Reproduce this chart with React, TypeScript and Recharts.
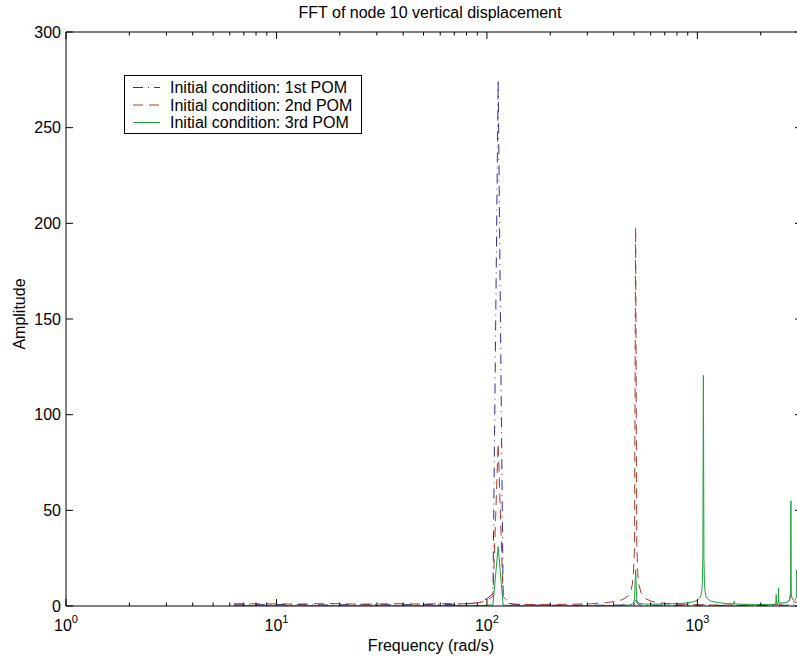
import { LineChart, Line, XAxis, YAxis } from 'recharts'

// FFT bins (rad/s), 1 Hz spacing, only the bins that shape the curves
const freq = [
  6.28, 12.57, 18.85, 25.13, 37.7, 50.27, 62.83, 75.4, 87.96, 94.25,
  100.53, 106.81, 113.1, 119.38, 125.66, 131.95, 150.8, 188.5, 251.33, 314.16,
  376.99, 427.26, 452.39, 471.24, 483.81, 490.09, 496.37, 502.65, 508.94, 515.22,
  521.5, 527.79, 540.35, 565.49, 603.19, 653.45, 722.57, 816.81, 892.21, 961.33,
  1005.31, 1030.44, 1043.01, 1049.29, 1055.58, 1061.86, 1068.14, 1074.42, 1080.71, 1086.99,
  1099.56, 1124.69, 1162.39, 1244.07, 1376.02, 1488.85, 1495.13, 1501.42, 1633.63, 1884.96,
  2136.28, 2312.21, 2362.57, 2368.81, 2375.09, 2419.03, 2425.31, 2431.59, 2437.88, 2500.71,
  2638.94, 2720.62, 2745.75, 2758.32, 2770.88, 2777.17, 2783.45, 2789.73, 2796.02, 2827.43,
  2890.27, 2953.1, 2965.66, 2978.23, 2990.8, 3053.63, 3141.59,
]

const pom1 = [
  0.6, 0.8, 0.5, 0.9, 0.6, 0.8, 0.7, 1.0, 1.5, 2.2,
  4.0, 6.5, 275, 6.0, 2.0, 1.0, 0.6, 0.4, 0.4, 0.4,
  0.4, 0.5, 0.6, 0.7, 0.8, 1.0, 1.5, 2.5, 3.0, 2.0,
  1.0, 0.7, 0.5, 0.4, 0.4, 0.4, 0.4, 0.4, 0.4, 0.4,
  0.4, 0.5, 0.5, 0.5, 0.6, 0.6, 0.7, 0.6, 0.5, 0.5,
  0.4, 0.4, 0.4, 0.3, 0.3, 0.3, 0.3, 0.3, 0.3, 0.3,
  0.3, 0.3, 0.3, 0.3, 0.3, 0.3, 0.3, 0.3, 0.3, 0.4,
  0.4, 0.5, 0.6, 0.7, 0.8, 0.9, 1.0, 0.9, 0.8, 0.6,
  0.5, 0.5, 0.5, 0.5, 0.5, 0.4, 0.4,
]

const pom2 = [
  1.2, 1.0, 1.3, 0.9, 1.2, 1.0, 1.3, 1.1, 1.6, 1.9,
  3.0, 5.0, 85, 5.0, 1.5, 1.0, 0.8, 0.8, 0.9, 1.2,
  1.8, 2.8, 4.0, 5.5, 8, 11, 16, 30, 198, 32,
  16, 11, 7, 4, 2.5, 1.8, 1.2, 1.0, 0.8, 0.6,
  0.6, 0.6, 0.6, 0.6, 0.6, 0.7, 0.8, 0.7, 0.6, 0.6,
  0.5, 0.5, 0.5, 0.5, 0.5, 0.5, 0.5, 0.5, 0.5, 0.5,
  0.6, 0.6, 0.7, 0.7, 0.7, 0.8, 0.8, 0.9, 0.9, 1.0,
  1.5, 2.5, 3.5, 4.5, 5.5, 6, 5.5, 4.5, 3.5, 2.5,
  2.0, 2.0, 2.2, 2.3, 2.5, 2.0, 1.5,
]

const pom3 = [
  0.1, 0.1, 0.1, 0.1, 0.1, 0.1, 0.2, 0.2, 0.2, 0.3,
  0.4, 0.6, 31, 0.5, 0.3, 0.2, 0.1, 0.1, 0.1, 0.1,
  0.2, 0.3, 0.4, 0.5, 0.7, 0.9, 1.5, 3, 19, 3,
  2, 1.5, 1.2, 1.0, 1.0, 1.0, 1.1, 1.3, 1.6, 2.2,
  3.2, 4.5, 6, 8, 12, 25, 120.5, 25, 12, 8,
  5, 3.5, 2.5, 1.8, 1.3, 1.1, 2.5, 1.1, 0.9, 0.8,
  0.8, 0.9, 1.2, 6, 1.2, 1.4, 2, 9.5, 2, 1.5,
  1.8, 2.5, 3.5, 5, 8, 14, 55, 12, 6, 3.5,
  3, 4, 19, 12, 8, 4, 3,
]

const yTicks = [0, 50, 100, 150, 200, 250, 300]
const decades = [1, 10, 100, 1000]
const xTicks = [
  1, 2, 3, 4, 5, 6, 7, 8, 9,
  10, 20, 30, 40, 50, 60, 70, 80, 90,
  100, 200, 300, 400, 500, 600, 700, 800, 900,
  1000, 2000, 3000,
]
const xDomain = [1, 3141.59]

const series = [
  { key: 'pom1', name: 'Initial condition: 1st POM', color: '#3a2a9a', dash: '10 5 1 5' },
  { key: 'pom2', name: 'Initial condition: 2nd POM', color: '#a83a30', dash: '10 6' },
  { key: 'pom3', name: 'Initial condition: 3rd POM', color: '#1aa33a', dash: undefined },
]

const rows = freq.map((f, i) => ({ freq: f, pom1: pom1[i], pom2: pom2[i], pom3: pom3[i] }))

const FONT = '"Liberation Sans", Arial, Helvetica, sans-serif'

function BottomTick({ x, y, payload }: any) {
  const major = decades.includes(payload.value)
  return (
    <g>
      <line x1={x} x2={x} y1={y} y2={y - (major ? 7 : 3.5)} stroke="#000" />
      {major && (
        <text x={x} y={y + 25} textAnchor="middle" fontSize={16} fill="#000" fontFamily={FONT}>
          10<tspan dy={-8} fontSize={11}>{Math.round(Math.log10(payload.value))}</tspan>
        </text>
      )}
    </g>
  )
}

function TopTick({ x, y, payload }: any) {
  const major = decades.includes(payload.value)
  return <line x1={x} x2={x} y1={y} y2={y + (major ? 7 : 3.5)} stroke="#000" />
}

function LeftTick({ x, y, payload }: any) {
  return (
    <g>
      <line x1={x} x2={x + 7} y1={y} y2={y} stroke="#000" />
      <text x={x - 5} y={y} dy="0.35em" textAnchor="end" fontSize={16} fill="#000" fontFamily={FONT}>
        {payload.value}
      </text>
    </g>
  )
}

function RightTick({ x, y }: any) {
  return <line x1={x} x2={x - 7} y1={y} y2={y} stroke="#000" />
}

export default function App() {
  return (
    <div
      style={{
        position: 'absolute',
        left: 0,
        top: 0,
        width: 797,
        height: 659,
        overflow: 'hidden',
        background: '#fff',
        fontFamily: FONT,
      }}
    >
      <LineChart width={803} height={659} data={rows} margin={{ top: 31, right: 0, bottom: 0, left: 0 }}>
        <XAxis
          xAxisId="b"
          dataKey="freq"
          type="number"
          scale="log"
          domain={xDomain}
          allowDataOverflow
          ticks={xTicks}
          interval={0}
          height={53}
          tickSize={0}
          tickMargin={0}
          tickLine={false}
          tick={BottomTick}
          axisLine={{ stroke: '#000' }}
        />
        <XAxis
          xAxisId="t"
          orientation="top"
          dataKey="freq"
          type="number"
          scale="log"
          domain={xDomain}
          allowDataOverflow
          ticks={xTicks}
          interval={0}
          height={1}
          tickSize={0}
          tickMargin={0}
          tickLine={false}
          tick={TopTick}
          axisLine={{ stroke: '#000' }}
        />
        <YAxis
          yAxisId="l"
          type="number"
          domain={[0, 300]}
          allowDataOverflow
          ticks={yTicks}
          interval={0}
          width={66}
          tickSize={0}
          tickMargin={0}
          tickLine={false}
          tick={LeftTick}
          axisLine={{ stroke: '#000' }}
        />
        <YAxis
          yAxisId="r"
          orientation="right"
          type="number"
          domain={[0, 300]}
          allowDataOverflow
          ticks={yTicks}
          interval={0}
          width={1}
          tickSize={0}
          tickMargin={0}
          tickLine={false}
          tick={RightTick}
          axisLine={{ stroke: '#000' }}
        />
        {series.map((s) => (
          <Line
            key={s.key}
            xAxisId="b"
            yAxisId="l"
            type="linear"
            dataKey={s.key}
            name={s.name}
            stroke={s.color}
            strokeWidth={1}
            strokeDasharray={s.dash}
            dot={false}
            activeDot={false}
            isAnimationActive={false}
          />
        ))}
      </LineChart>

      <svg
        width={797}
        height={659}
        style={{ position: 'absolute', left: 0, top: 0, pointerEvents: 'none' }}
        fontFamily={FONT}
      >
        <text x={430} y={18} textAnchor="middle" fontSize={16} fill="#000">
          FFT of node 10 vertical displacement
        </text>
        <text x={431} y={651} textAnchor="middle" fontSize={16} fill="#000">
          Frequency (rad/s)
        </text>
        <text x={25} y={314} textAnchor="middle" fontSize={16} fill="#000" transform="rotate(-90 25 314)">
          Amplitude
        </text>

        <rect x={124.5} y={75.5} width={237} height={58} fill="#fff" stroke="#000" />
        {series.map((s, i) => (
          <g key={s.key}>
            <line
              x1={133}
              x2={160}
              y1={87.5 + i * 17.5}
              y2={87.5 + i * 17.5}
              stroke={s.color}
              strokeDasharray={s.dash}
            />
            <text x={170} y={93 + i * 17.5} fontSize={16} fill="#000">
              {s.name}
            </text>
          </g>
        ))}
      </svg>
    </div>
  )
}
